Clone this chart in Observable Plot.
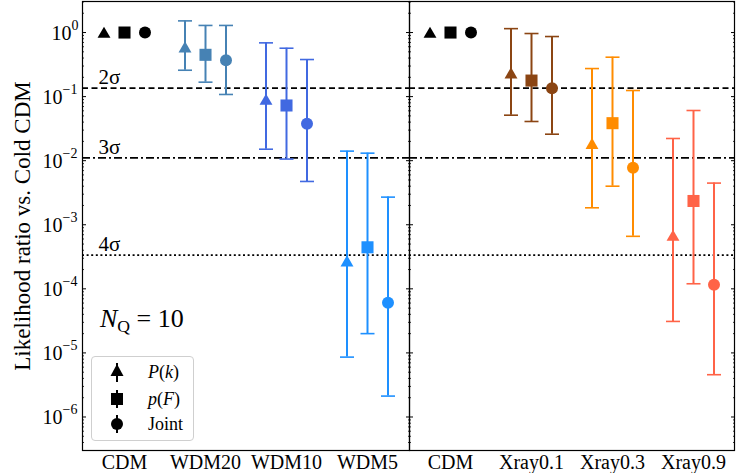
<!DOCTYPE html>
<html><head><meta charset="utf-8">
<script src="https://cdn.jsdelivr.net/npm/d3@7"></script>
<script src="https://cdn.jsdelivr.net/npm/@observablehq/plot@0.6"></script>
<style>
body{margin:0;background:#fff;}
#wrap{position:relative;width:737px;height:473px;display:flex;font-family:"Liberation Serif",serif;overflow:hidden;}
#wrap svg{display:block;overflow:visible;flex:none;}
.ov{position:absolute;font-family:"Liberation Serif",serif;color:#000;line-height:1;}
#legend{left:91px;top:356px;width:101px;height:83px;border:1px solid #cfcfcf;border-radius:4px;background:rgba(255,255,255,0.85);}
.row{position:absolute;left:0;width:101px;height:24px;}
.row svg{position:absolute;left:17px;top:0;}
.row span{position:absolute;left:56px;top:3px;font-size:18px;}
</style></head><body><div id="wrap"></div>
<script>
// ---------- data ----------
const methods = ["P(k)", "p(F)", "Joint"];
const leftCats = ["CDM", "WDM20", "WDM10", "WDM5"];
const leftColors = ["black", "#4682b4", "#4169e1", "#1e90ff"];
const rightCats = ["CDM", "Xray0.1", "Xray0.3", "Xray0.9"];
const rightColors = ["black", "#8b4513", "#ff8c00", "#ff6347"];

// likelihood ratio values [CDM, model1, model2, model3]
const leftPk      = [1, 0.59, 0.090, 2.7e-4];
const leftPkLo    = [null, 0.258, 0.0151, 8.6e-6];
const leftPkHi    = [null, 1.52, 0.69, 0.0141];
const leftPF      = [1, 0.449, 0.0727, 4.45e-4];
const leftPFLo    = [null, 0.168, 0.0106, 2.0e-5];
const leftPFHi    = [null, 1.29, 0.569, 0.0131];
const leftJoint   = [1, 0.37, 0.0376, 6.07e-5];
const leftJointLo = [null, 0.108, 0.00474, 2.12e-6];
const leftJointHi = [null, 1.29, 0.379, 2.7e-3];

const rightPk      = [1, 0.232, 0.0185, 6.8e-4];
const rightPkLo    = [null, 0.0513, 0.00184, 3.1e-5];
const rightPkHi    = [null, 1.15, 0.274, 0.0222];
const rightPF      = [1, 0.178, 0.0385, 2.35e-3];
const rightPFLo    = [null, 0.0409, 0.0040, 1.2e-4];
const rightPFHi    = [null, 0.965, 0.412, 0.0607];
const rightJoint   = [1, 0.135, 0.00775, 1.16e-4];
const rightJointLo = [null, 0.0259, 6.6e-4, 4.57e-6];
const rightJointHi = [null, 0.866, 0.1245, 4.47e-3];

// significance thresholds
const sigmaLabels = ["2σ", "3σ", "4σ"];
const sigmaValues = [0.1353, 0.0111, 3.35e-4];

const yTicks = [1e-6, 1e-5, 1e-4, 1e-3, 1e-2, 1e-1, 1];
const yDomain = [3e-7, 3.05];

// ---------- helpers ----------
const FONT = "Liberation Serif";
const minorTicks = [];
for (let e = -7; e <= 0; e++) for (let k = 2; k <= 9; k++) {
  const v = k * Math.pow(10, e);
  if (v >= yDomain[0] && v <= yDomain[1]) minorTicks.push(v);
}
const expOf = d => String(Math.round(Math.log10(d))).replace("-", "−");
const ticksZero = yTicks.filter(d => d === 1);
const ticksNeg = yTicks.filter(d => d !== 1);

function rows(cats, colors, vals, los, his) {
  return methods.map((m, k) => cats.map((c, i) => ({cat: c, color: colors[i], method: m,
    v: vals[k][i], lo: los[k][i], hi: his[k][i]})));
}
const cap = {draw(ctx) { ctx.moveTo(-7, 0); ctx.lineTo(7, 0); }};
const symbols = ["triangle", "square", "circle"];
const radii = [4.8, 6.8, 6.0];
const offsets = [-20.5, 0, 20.5];
const dys = [1.6, 0, 0];

function tickLabel(data, text, dx, dy, size) {
  return Plot.text(data, {y: d => d, text, frameAnchor: "left", textAnchor: "start", lineAnchor: "middle", dx, dy, fontSize: size, fontFamily: FONT});
}

function panel(cats, colors, data, opts) {
  const marks = [];
  marks.push(Plot.ruleY([sigmaValues[0]], {stroke: "black", strokeWidth: 1.8, strokeDasharray: "6,3.5"}));
  marks.push(Plot.ruleY([sigmaValues[1]], {stroke: "black", strokeWidth: 1.8, strokeDasharray: "8,3,2,3"}));
  marks.push(Plot.ruleY([sigmaValues[2]], {stroke: "black", strokeWidth: 1.8, strokeDasharray: "2,2.6"}));
  data.forEach((rs, k) => {
    const withErr = rs.filter(d => d.lo != null);
    marks.push(Plot.ruleX(withErr, {x: "cat", y1: "lo", y2: "hi", stroke: "color", strokeWidth: 2, dx: offsets[k]}));
    marks.push(Plot.dot(withErr, {x: "cat", y: "lo", symbol: cap, fill: "none", stroke: "color", strokeWidth: 1.6, dx: offsets[k]}));
    marks.push(Plot.dot(withErr, {x: "cat", y: "hi", symbol: cap, fill: "none", stroke: "color", strokeWidth: 1.6, dx: offsets[k]}));
    marks.push(Plot.dot(rs, {x: "cat", y: "v", symbol: symbols[k], r: radii[k], fill: "color", stroke: "none", dx: offsets[k], dy: dys[k]}));
  });
  marks.push(Plot.frame({stroke: "black", strokeWidth: 1.2}));
  if (opts.left) {
    // tick labels: "10" base plus superscript exponent
    marks.push(tickLabel(ticksZero, () => "10", -31, 1, 20));
    marks.push(tickLabel(ticksZero, expOf, -11, -7, 14));
    marks.push(tickLabel(ticksNeg, () => "10", -40, 1, 20));
    marks.push(tickLabel(ticksNeg, expOf, -20, -7, 14));
    marks.push(Plot.text(sigmaLabels.map((t, i) => ({t, y: sigmaValues[i]})), {y: "y", text: "t", frameAnchor: "left", dx: 16, dy: -4, textAnchor: "start", lineAnchor: "bottom", fontSize: 21, fontFamily: FONT}));
    marks.push(Plot.text(["Likelihood ratio vs. Cold CDM"], {frameAnchor: "left", rotate: -90, dx: -60, textAnchor: "middle", lineAnchor: "middle", fontSize: 23, fontFamily: FONT}));
  }
  for (const anchor of ["left", "right"]) {
    marks.push(Plot.axisY(yTicks, {anchor, tickSize: -4, tickFormat: () => "", label: null, strokeWidth: 1}));
    marks.push(Plot.axisY(minorTicks, {anchor, tickSize: -2, tickFormat: () => "", label: null, strokeWidth: 0.8}));
  }
  marks.push(Plot.axisX(cats, {tickSize: 0, tickPadding: 4, fontSize: 20, fontFamily: FONT, label: null}));
  return Plot.plot({
    width: opts.width, height: 473,
    marginLeft: opts.ml, marginRight: opts.mr, marginTop: 1, marginBottom: 23,
    style: {fontFamily: FONT, background: "transparent", overflow: "visible", color: "black"},
    x: {type: "point", domain: cats, padding: 0.5},
    y: {type: "log", domain: yDomain},
    marks
  });
}

const wrap = document.getElementById("wrap");
wrap.appendChild(panel(leftCats, leftColors,
  rows(leftCats, leftColors, [leftPk, leftPF, leftJoint], [leftPkLo, leftPFLo, leftJointLo], [leftPkHi, leftPFHi, leftJointHi]),
  {left: true, width: 409, ml: 82, mr: 0}));
wrap.appendChild(panel(rightCats, rightColors,
  rows(rightCats, rightColors, [rightPk, rightPF, rightJoint], [rightPkLo, rightPFLo, rightJointLo], [rightPkHi, rightPFHi, rightJointHi]),
  {left: false, width: 328, ml: 0, mr: 3}));

// N_Q annotation
const nq = document.createElement("div");
nq.className = "ov";
nq.style.cssText = "left:100px;top:306px;font-size:26px;";
nq.innerHTML = '<i>N</i><span style="font-size:0.68em;position:relative;top:0.3em">Q</span> = 10';
wrap.appendChild(nq);

// legend
const legend = document.createElement("div");
legend.className = "ov"; legend.id = "legend";
const icons = [
  '<svg width="16" height="24"><line x1="8" y1="3" x2="8" y2="22" stroke="black" stroke-width="2"/><path d="M8,4 L14.5,16 L1.5,16Z" fill="black"/></svg>',
  '<svg width="16" height="24"><line x1="8" y1="3" x2="8" y2="21" stroke="black" stroke-width="2"/><rect x="2" y="6" width="12" height="12" fill="black"/></svg>',
  '<svg width="16" height="24"><line x1="8" y1="3" x2="8" y2="21" stroke="black" stroke-width="2"/><circle cx="8" cy="12" r="6" fill="black"/></svg>'
];
const labelsHtml = ['<i>P</i>(<i>k</i>)', '<i>p</i>(<i>F</i>)', 'Joint'];
const rowTops = [3, 30, 55];
methods.forEach((m, k) => {
  const r = document.createElement("div");
  r.className = "row"; r.style.top = rowTops[k] + "px";
  r.innerHTML = icons[k] + '<span>' + labelsHtml[k] + '</span>';
  legend.appendChild(r);
});
wrap.appendChild(legend);
</script></body></html>
